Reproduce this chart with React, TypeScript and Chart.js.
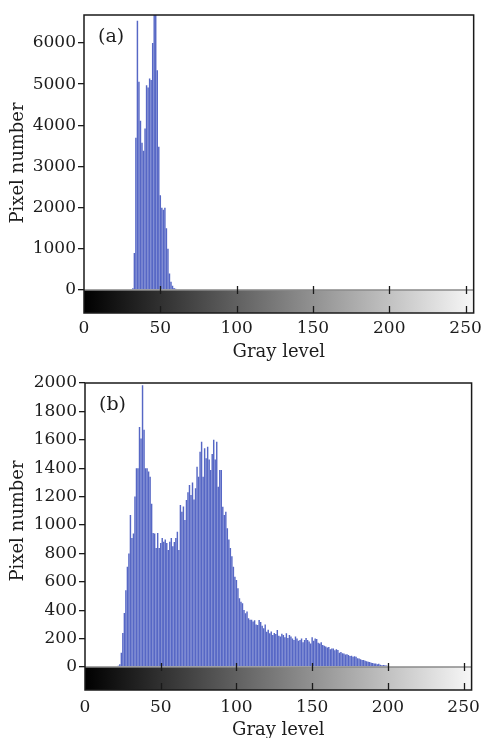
import React, { useEffect, useRef } from "react";
import { Chart, registerables } from "chart.js";
Chart.register(...registerables);

// ---------- data ----------
const xTickValues = [0, 50, 100, 150, 200, 250];
const yTicksA = [0, 1000, 2000, 3000, 4000, 5000, 6000];
const yTicksB = [0, 200, 400, 600, 800, 1000, 1200, 1400, 1600, 1800, 2000];

// panel (a): first gray level and pixel counts per consecutive gray level
const startA = 32;
const countsA = [
  40, 900, 3700, 6540, 5060, 4110, 3575, 3380, 3920, 4975,
  4920, 5140, 5100, 6000, 6800, 6800, 5340, 3480, 2300, 2000,
  1950, 2000, 1500, 1000, 400, 200, 100, 50, 30, 20,
];

// panel (b)
const startB = 22;
const countsB = [
  8, 20, 100, 240, 380, 540, 706, 800, 1070, 908,
  940, 1200, 1400, 1400, 1690, 1610, 1985, 1670, 1400, 1400,
  1376, 1340, 1150, 943, 940, 838, 943, 838, 873, 908,
  882, 897, 873, 824, 882, 908, 850, 880, 908, 953,
  824, 1140, 1094, 1130, 1035, 1176, 1230, 1282, 1211, 1300,
  1180, 1258, 1410, 1340, 1516, 1587, 1340, 1540, 1470, 1551,
  1462, 1387, 1500, 1600, 1462, 1587, 1270, 1387, 1387, 1129,
  1070, 1094, 977, 897, 838, 780, 706, 636, 612, 554,
  484, 460, 449, 401, 378, 390, 343, 332, 332, 320,
  330, 300, 296, 331, 316, 290, 272, 300, 249, 262,
  237, 250, 225, 240, 232, 260, 220, 214, 235, 225,
  210, 237, 205, 225, 215, 200, 190, 215, 200, 185,
  190, 200, 175, 190, 205, 190, 180, 166, 210, 185,
  200, 197, 170, 166, 175, 155, 150, 145, 138, 140,
  125, 130, 130, 118, 125, 120, 100, 105, 96, 95,
  88, 90, 85, 78, 80, 73, 75, 72, 62, 60,
  55, 49, 50, 44, 40, 37, 35, 30, 28, 25,
  25, 20, 22, 15, 12, 14, 12, 10, 8, 6,
  5, 5, 5, 5, 5, 5, 5, 5, 5, 5,
  5, 5, 5,
];

const FONT = "'DejaVu Serif', serif";
const TEXT = "#1c1c1c";

type PanelProps = {
  start: number;
  counts: number[];
  yMin: number;
  yMax: number;
  yTicks: number[];
  label: string;
  padTop: number;
  yAxisWidth: number;
  xAxisHeight: number;
  yTitleY: number;
  xTitleY: number;
  tickPad: number;
};

function Panel(p: PanelProps) {
  const ref = useRef<HTMLCanvasElement>(null);
  useEffect(() => {
    if (!ref.current) return;
    const points = p.counts.map((c, i) => ({ x: p.start + i, y: c }));
    const decor = {
      id: "decor",
      beforeDatasetsDraw(chart: any) {
        const { ctx, chartArea, scales } = chart;
        const { left, right, bottom } = chartArea;
        const y0 = scales.y.getPixelForValue(0);
        ctx.save();
        const g = ctx.createLinearGradient(left, 0, right, 0);
        g.addColorStop(0, "#000000");
        g.addColorStop(1, "#f7f7f7");
        ctx.fillStyle = g;
        ctx.fillRect(left, y0, right - left, bottom - y0);
        ctx.restore();
      },
      afterDatasetsDraw(chart: any) {
        const { ctx, chartArea, scales } = chart;
        const { left, right, top, bottom } = chartArea;
        const y0 = scales.y.getPixelForValue(0);
        ctx.save();
        // zero line
        ctx.strokeStyle = "#8a8a8a";
        ctx.lineWidth = 1.5;
        ctx.beginPath();
        ctx.moveTo(left, y0);
        ctx.lineTo(right, y0);
        ctx.stroke();
        // x tick marks
        ctx.strokeStyle = "#1a1a1a";
        ctx.lineWidth = 1.3;
        xTickValues.forEach((v) => {
          if (v === 0) return;
          const px = Math.round(scales.x.getPixelForValue(v)) + 0.5;
          ctx.beginPath();
          ctx.moveTo(px, y0 - 4);
          ctx.lineTo(px, y0 + 4);
          ctx.moveTo(px, bottom - 7);
          ctx.lineTo(px, bottom);
          ctx.stroke();
        });
        // frame
        ctx.strokeStyle = "#1a1a1a";
        ctx.lineWidth = 1.5;
        ctx.strokeRect(left, top, right - left, bottom - top);
        // panel label
        ctx.fillStyle = TEXT;
        ctx.font = `19px ${FONT}`;
        ctx.textAlign = "left";
        ctx.textBaseline = "middle";
        ctx.fillText(p.label, left + 14, top + 22);
        // axis titles
        ctx.font = `18px ${FONT}`;
        ctx.textAlign = "center";
        ctx.fillText("Gray level", (left + right) / 2, p.xTitleY);
        ctx.translate(18, p.yTitleY);
        ctx.rotate(-Math.PI / 2);
        ctx.fillText("Pixel number", 0, 0);
        ctx.restore();
      },
    };
    const chart = new Chart(ref.current, {
      type: "bar",
      data: {
        datasets: [
          {
            data: points as any,
            backgroundColor: "rgba(58,78,188,0.86)",
            borderWidth: 0,
            barPercentage: 0.95,
            categoryPercentage: 1,
          },
        ],
      },
      options: {
        animation: false,
        responsive: false,
        devicePixelRatio: 1,
        layout: { padding: { left: 0, right: 10, top: p.padTop, bottom: 0 } },
        plugins: { legend: { display: false }, tooltip: { enabled: false } },
        scales: {
          x: {
            type: "linear",
            min: 0,
            max: 255.3,
            offset: false,
            grid: { display: false, drawTicks: false },
            border: { display: false },
            afterBuildTicks: (s: any) => {
              s.ticks = xTickValues.map((v) => ({ value: v }));
            },
            afterFit: (s: any) => {
              s.height = p.xAxisHeight;
            },
            ticks: {
              font: { family: FONT, size: 17 },
              color: TEXT,
              padding: p.tickPad,
              maxRotation: 0,
              callback: (v: any) => String(v),
            },
          },
          y: {
            type: "linear",
            min: p.yMin,
            max: p.yMax,
            grid: {
              display: true,
              drawOnChartArea: false,
              drawTicks: true,
              tickLength: 6,
              color: "#1a1a1a",
              lineWidth: 1.3,
            },
            border: { display: false },
            afterBuildTicks: (s: any) => {
              s.ticks = p.yTicks.map((v) => ({ value: v }));
            },
            afterFit: (s: any) => {
              s.width = p.yAxisWidth;
            },
            ticks: {
              font: { family: FONT, size: 17 },
              color: TEXT,
              padding: 2,
              callback: (v: any) => String(v),
            },
          },
        },
      },
      plugins: [decor],
    });
    return () => chart.destroy();
  }, []);
  return <canvas ref={ref} width={487} height={369} style={{ display: "block" }} />;
}

export default function App() {
  return (
    <div style={{ position: "absolute", left: 0, top: 0, width: 487, height: 738, background: "#fff" }}>
      <Panel
        start={startA}
        counts={countsA}
        yMin={-560}
        yMax={6680}
        yTicks={yTicksA}
        label="(a)"
        padTop={15}
        yAxisWidth={84}
        xAxisHeight={56}
        yTitleY={163}
        xTitleY={352}
        tickPad={5}
      />
      <Panel
        start={startB}
        counts={countsB}
        yMin={-162}
        yMax={2000}
        yTicks={yTicksB}
        label="(b)"
        padTop={14}
        yAxisWidth={85}
        xAxisHeight={48}
        yTitleY={152}
        xTitleY={361}
        tickPad={7}
      />
    </div>
  );
}
